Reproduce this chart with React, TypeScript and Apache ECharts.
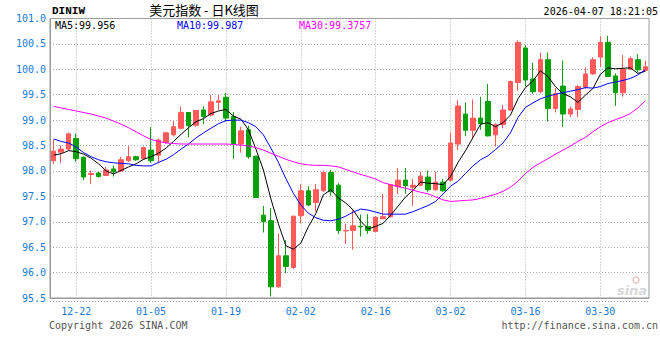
import React, { useEffect, useRef } from "react";
import * as echarts from "echarts";

const dates = [
  "12-17", "12-18", "12-19", "12-22", "12-23", "12-24", "12-25", "12-26", "12-29", "12-30",
  "12-31", "01-01", "01-02", "01-05", "01-06", "01-07", "01-08", "01-09", "01-12", "01-13",
  "01-14", "01-15", "01-16", "01-19", "01-20", "01-21", "01-22", "01-23", "01-26", "01-27",
  "01-28", "01-29", "01-30", "02-02", "02-03", "02-04", "02-05", "02-06", "02-09", "02-10",
  "02-11", "02-12", "02-13", "02-16", "02-17", "02-18", "02-19", "02-20", "02-23", "02-24",
  "02-25", "02-26", "02-27", "03-02", "03-03", "03-04", "03-05", "03-06", "03-09", "03-10",
  "03-11", "03-12", "03-13", "03-16", "03-17", "03-18", "03-19", "03-20", "03-23", "03-24",
  "03-25", "03-26", "03-27", "03-30", "03-31", "04-01", "04-02", "04-03", "04-06", "04-07",
];

const opens = [
  98.20, 98.37, 98.43, 98.64, 98.27, 97.93, 97.96, 97.91, 98.04, 98.00,
  98.20, 98.28, 98.24, 98.41, 98.31, 98.56, 98.71, 98.84, 99.15, 98.90,
  99.20, 99.10, 99.35, 99.45, 99.07, 98.53, 98.81, 98.29, 97.13, 97.02,
  95.72, 96.33, 96.10, 97.12, 97.61, 97.38, 97.61, 97.97, 97.72, 96.82,
  96.83, 96.91, 96.91, 96.81, 97.06, 97.10, 97.69, 97.82, 97.68, 97.72,
  97.88, 97.63, 97.78, 97.82, 98.53, 99.12, 98.80, 99.04, 99.37, 98.71,
  98.91, 99.20, 99.74, 100.42, 99.81, 99.56, 100.19, 99.23, 99.67, 99.12,
  99.21, 99.65, 99.91, 100.24, 100.53, 99.87, 99.54, 100.00, 100.19, 99.98,
];
const closes = [
  98.39, 98.43, 98.73, 98.24, 97.88, 97.95, 97.89, 98.02, 97.98, 98.22,
  98.28, 98.22, 98.46, 98.20, 98.61, 98.75, 98.87, 99.15, 98.89, 99.19,
  99.07, 99.36, 99.38, 99.04, 98.54, 98.79, 98.28, 97.48, 97.00, 95.72,
  96.33, 96.12, 97.11, 97.61, 97.33, 97.63, 97.97, 97.59, 96.83, 96.83,
  96.92, 96.90, 96.83, 97.09, 97.10, 97.73, 97.82, 97.71, 97.72, 97.90,
  97.63, 97.78, 97.61, 98.55, 99.28, 98.80, 99.04, 98.93, 98.69, 98.91,
  99.20, 99.76, 100.53, 99.79, 99.56, 100.19, 99.23, 99.52, 99.12, 99.22,
  99.66, 99.91, 100.19, 100.53, 99.86, 99.54, 100.00, 100.21, 99.99, 100.05,
];
const lows = [
  98.14, 98.15, 98.40, 98.18, 97.82, 97.74, 97.87, 97.90, 97.89, 97.98,
  98.18, 98.20, 98.22, 98.16, 98.15, 98.54, 98.68, 98.82, 98.66, 98.87,
  98.92, 99.07, 99.19, 98.98, 98.24, 98.36, 98.24, 97.47, 96.79, 95.53,
  95.70, 95.99, 96.07, 96.97, 97.31, 97.20, 97.59, 97.51, 96.76, 96.56,
  96.45, 96.71, 96.76, 96.79, 97.05, 97.08, 97.55, 97.55, 97.31, 97.70,
  97.59, 97.61, 97.59, 97.79, 98.41, 98.69, 98.64, 98.81, 98.68, 98.48,
  98.84, 99.18, 99.58, 99.66, 99.52, 99.53, 98.97, 99.15, 98.87, 99.06,
  99.06, 99.61, 99.89, 100.05, 99.85, 99.28, 99.46, 99.99, 99.94, 99.96,
];
const highs = [
  98.62, 98.50, 98.76, 98.73, 98.29, 98.01, 97.98, 98.08, 98.10, 98.28,
  98.49, 98.30, 98.48, 98.86, 98.64, 98.77, 98.98, 99.27, 99.16, 99.20,
  99.27, 99.50, 99.50, 99.53, 99.16, 98.87, 98.89, 98.30, 97.31, 97.27,
  96.77, 96.64, 97.12, 97.74, 97.70, 97.74, 98.01, 98.02, 97.76, 96.96,
  97.24, 97.14, 97.15, 97.11, 97.55, 97.74, 98.06, 98.06, 97.84, 97.99,
  98.01, 97.99, 97.84, 98.76, 99.39, 99.35, 99.41, 99.46, 99.71, 98.94,
  99.30, 99.78, 100.57, 100.48, 100.13, 100.33, 100.33, 99.63, 100.17, 99.27,
  99.69, 100.04, 100.24, 100.65, 100.66, 99.92, 100.28, 100.25, 100.30, 100.17,
];

const ma5 = [
  98.31, 98.34, 98.40, 98.38, 98.33, 98.25, 98.14, 98.00, 97.94, 98.01,
  98.08, 98.14, 98.23, 98.28, 98.35, 98.45, 98.58, 98.72, 98.85, 98.97,
  99.03, 99.13, 99.18, 99.21, 99.08, 99.02, 98.81, 98.43, 98.02, 97.45,
  96.96, 96.53, 96.46, 96.58, 96.90, 97.16, 97.53, 97.63, 97.47, 97.37,
  97.23, 97.01, 96.86, 96.91, 96.97, 97.13, 97.31, 97.49, 97.62, 97.78,
  97.76, 97.75, 97.73, 97.89, 98.17, 98.40, 98.66, 98.92, 98.95, 98.87,
  98.95, 99.10, 99.42, 99.64, 99.77, 99.97, 99.86, 99.66, 99.52, 99.46,
  99.35, 99.49, 99.62, 99.90, 100.03, 100.01, 100.02, 100.03, 99.92, 99.96,
];
const ma10 = [
  98.63, 98.58, 98.55, 98.47, 98.36, 98.28, 98.22, 98.18, 98.16, 98.15,
  98.14, 98.11, 98.10, 98.10, 98.17, 98.23, 98.32, 98.43, 98.53, 98.65,
  98.75, 98.84, 98.93, 98.99, 99.00, 99.00, 98.95, 98.87, 98.71, 98.45,
  98.17, 97.85, 97.56, 97.33, 97.17, 97.08, 97.03, 97.02, 97.05, 97.11,
  97.19, 97.25, 97.23, 97.19, 97.15, 97.15, 97.15, 97.15, 97.20, 97.26,
  97.32, 97.40, 97.55, 97.70, 97.80, 97.95, 98.10, 98.22, 98.30, 98.42,
  98.55, 98.75, 99.05, 99.25, 99.34, 99.42, 99.47, 99.51, 99.54, 99.57,
  99.60, 99.64, 99.63, 99.66, 99.72, 99.75, 99.78, 99.82, 99.89, 99.99,
];
const ma30 = [
  99.27, 99.24, 99.21, 99.18, 99.15, 99.12, 99.08, 99.04, 98.98, 98.92,
  98.85, 98.77, 98.69, 98.62, 98.58, 98.55, 98.54, 98.53, 98.53, 98.53,
  98.53, 98.53, 98.53, 98.53, 98.52, 98.51, 98.49, 98.46, 98.41, 98.35,
  98.29, 98.23, 98.18, 98.14, 98.12, 98.11, 98.11, 98.10, 98.08, 98.03,
  97.98, 97.93, 97.89, 97.84, 97.77, 97.73, 97.69, 97.66, 97.62, 97.58,
  97.55, 97.49, 97.43, 97.40, 97.41, 97.42, 97.43, 97.46, 97.50, 97.54,
  97.60, 97.68, 97.80, 97.95, 98.07, 98.16, 98.24, 98.33, 98.41, 98.49,
  98.58, 98.66, 98.77, 98.87, 98.95, 99.01, 99.06, 99.13, 99.24, 99.38,
];

const tickDates = ["12-22", "01-05", "01-19", "02-02", "02-16", "03-02", "03-16", "03-30"];
const maLegend = [
  { name: "MA5", value: "99.956", color: "#000000" },
  { name: "MA10", value: "99.987", color: "#0000ff" },
  { name: "MA30", value: "99.3757", color: "#ff00ff" },
];

export default function App() {
  const ref = useRef<HTMLDivElement>(null);

  useEffect(() => {
    document.body.style.margin = "0";
    const chart = echarts.init(ref.current!, null, { renderer: "svg" });
    const blue = "#1a7bd4";
    const mono = "DejaVu Sans Mono";
    const candles = dates.map((_, i) => [opens[i], closes[i], lows[i], highs[i]]);
    const isTick = (i: number) => tickDates.indexOf(dates[i]) >= 0;
    const legendX = [55, 177, 299];

    chart.setOption({
      animation: false,
      backgroundColor: "#ffffff",
      grid: {
        left: 50,
        right: 11,
        top: 18.5,
        bottom: 62,
        show: true,
        borderColor: "#999999",
        borderWidth: 1,
      },
      xAxis: {
        type: "category",
        data: dates,
        boundaryGap: true,
        axisLine: { show: true, lineStyle: { color: "#999999" } },
        axisTick: { show: false },
        axisLabel: {
          interval: (i: number) => isTick(i),
          color: blue,
          fontFamily: mono,
          fontSize: 10,
          margin: 8,
        },
        splitLine: {
          show: true,
          interval: (i: number) => isTick(i),
          alignWithLabel: true,
          lineStyle: { color: "#aaaaaa", type: [1, 2], width: 1 },
        },
      },
      yAxis: {
        type: "value",
        min: 95.5,
        max: 101,
        interval: 0.5,
        axisLine: { show: true, lineStyle: { color: "#999999" } },
        axisTick: { show: false },
        axisLabel: {
          formatter: (v: number) => v.toFixed(1),
          color: blue,
          fontFamily: mono,
          fontSize: 10,
          margin: 4,
        },
        splitLine: { show: true, lineStyle: { color: "#aaaaaa", type: [1, 2], width: 1 } },
      },
      series: [
        {
          type: "candlestick",
          data: candles,
          barWidth: 5,
          itemStyle: {
            color: "#ff5a5a",
            color0: "#08a008",
            borderColor: "#ff5a5a",
            borderColor0: "#08a008",
            borderWidth: 1,
          },
        },
        {
          type: "line",
          data: ma5,
          symbol: "none",
          lineStyle: { color: "#000000", width: 1 },
          z: 3,
        },
        {
          type: "line",
          data: ma10,
          symbol: "none",
          lineStyle: { color: "#0000ff", width: 1 },
          z: 3,
        },
        {
          type: "line",
          data: ma30,
          symbol: "none",
          lineStyle: { color: "#ff00ff", width: 1 },
          z: 3,
        },
      ],
      graphic: [
        {
          type: "text",
          x: 52,
          y: 11,
          style: {
            text: "DINIW",
            fill: "#000",
            fontFamily: "Liberation Mono",
            fontSize: 11,
            fontWeight: "bold",
            align: "left",
            verticalAlign: "middle",
            textAlign: "left",
            textVerticalAlign: "middle",
          },
        },
        {
          type: "text",
          x: 204,
          y: 9,
          style: {
            text: "美元指数 - 日K线图",
            fill: "#000",
            fontFamily: "Noto Sans CJK SC",
            fontSize: 13,
            align: "center",
            verticalAlign: "middle",
            textAlign: "center",
            textVerticalAlign: "middle",
          },
        },
        {
          type: "text",
          x: 658,
          y: 11,
          style: {
            text: "2026-04-07 18:21:05",
            fill: "#000",
            fontFamily: mono,
            fontSize: 10,
            align: "right",
            verticalAlign: "middle",
            textAlign: "right",
            textVerticalAlign: "middle",
          },
        },
        ...maLegend.map((m, k) => ({
          type: "text",
          x: legendX[k],
          y: 25,
          z: 10,
          style: {
            text: m.name + ":" + m.value,
            fill: m.color,
            fontFamily: mono,
            fontSize: 10,
            align: "left",
            verticalAlign: "middle",
            textAlign: "left",
            textVerticalAlign: "middle",
          },
        })),
        {
          type: "line",
          shape: { x1: 50, y1: 301.5, x2: 649, y2: 301.5 },
          style: { stroke: "#aaaaaa", lineWidth: 1, lineDash: [1, 2] },
        },
        {
          type: "text",
          x: 49,
          y: 325,
          style: {
            text: "Copyright 2026 SINA.COM",
            fill: "#555",
            fontFamily: mono,
            fontSize: 10,
            align: "left",
            verticalAlign: "middle",
            textAlign: "left",
            textVerticalAlign: "middle",
          },
        },
        {
          type: "text",
          x: 658,
          y: 325,
          style: {
            text: "http://finance.sina.com.cn",
            fill: "#555",
            fontFamily: mono,
            fontSize: 10,
            align: "right",
            verticalAlign: "middle",
            textAlign: "right",
            textVerticalAlign: "middle",
          },
        },
        {
          type: "text",
          x: 632,
          y: 290,
          style: {
            text: "sina",
            fill: "#d8d8d8",
            fontFamily: "DejaVu Sans",
            fontSize: 13,
            fontWeight: "bold",
            fontStyle: "italic",
            align: "center",
            verticalAlign: "middle",
            textAlign: "center",
            textVerticalAlign: "middle",
          },
        },
        {
          type: "circle",
          shape: { cx: 636, cy: 280, r: 3 },
          style: { fill: "none", stroke: "#e4c8c8", lineWidth: 1.5 },
        },
      ],
    });

    return () => chart.dispose();
  }, []);

  return (
    <div
      ref={ref}
      style={{ position: "absolute", left: 0, top: 0, width: 660, height: 360 }}
    />
  );
}
